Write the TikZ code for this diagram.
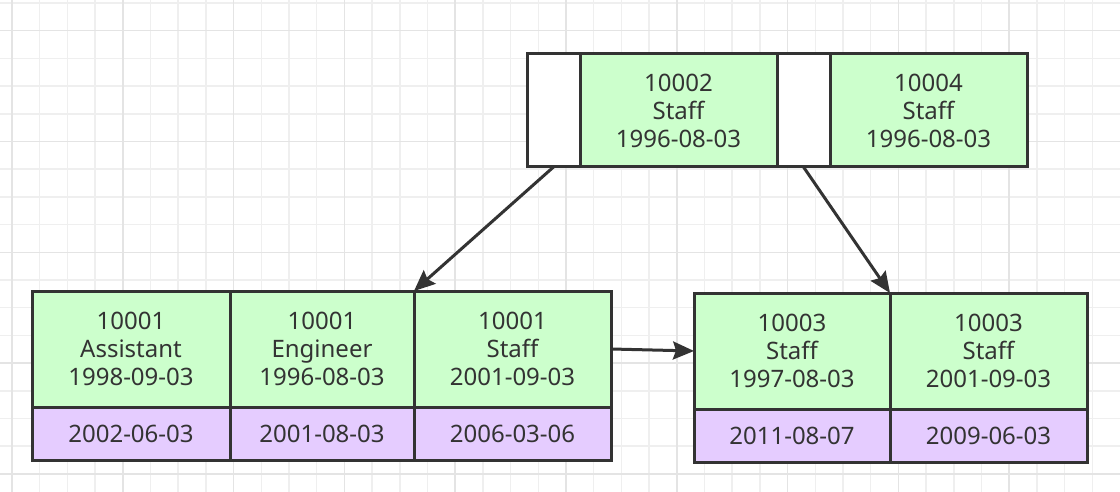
\documentclass[tikz,border=0pt]{standalone}
\usepackage{fontspec}
\setmainfont{Noto Sans}
\usetikzlibrary{arrows.meta,positioning}

\definecolor{keygreen}{HTML}{CCFFCC}
\definecolor{rowpurple}{HTML}{E5CCFF}
\definecolor{inkgray}{HTML}{333333}
\definecolor{gridminor}{HTML}{EFEFEF}
\definecolor{gridmajor}{HTML}{E4E4E4}

\tikzset{
  cell/.style={draw=inkgray, line width=3pt, inner sep=0pt, outer sep=0pt,
    text=inkgray, align=center, font=\fontsize{24}{28}\selectfont},
  ptrcell/.style={cell, fill=white, minimum width=53pt, minimum height=113pt},
  keycell/.style={cell, fill=keygreen, minimum height=116pt},
  rowcell/.style={cell, fill=rowpurple, minimum height=53pt},
  link/.style={draw=inkgray, line width=3pt, -{Stealth[length=21pt,width=18pt,inset=3pt]}},
}

\begin{document}
\begin{tikzpicture}[x=1pt, y=-1pt]

  \useasboundingbox (0,0) rectangle (1120,492);
  \fill[white] (0,0) rectangle (1120,492);

  % Raster
  \foreach \gx in {0,...,39}
    \draw[gridminor, line width=1.5pt] ({12+27.7*\gx},0) -- ({12+27.7*\gx},492);
  \foreach \gy in {0,...,17}
    \draw[gridminor, line width=1.5pt] (0,{3+27.7*\gy}) -- (1120,{3+27.7*\gy});
  \foreach \gx in {0,...,9}
    \draw[gridmajor, line width=1.5pt] ({12+110.8*\gx},0) -- ({12+110.8*\gx},492);
  \foreach \gy in {0,...,4}
    \draw[gridmajor, line width=1.5pt] (0,{30.7+110.8*\gy}) -- (1120,{30.7+110.8*\gy});

  % Wurzelknoten
  \node[ptrcell, anchor=north west] (rootptrA) at (527,54) {};
  \node[keycell, minimum width=197pt, minimum height=113pt, right=0pt of rootptrA]
    (rootkeyA) {10002\\Staff\\1996-08-03};
  \node[ptrcell, right=0pt of rootkeyA] (rootptrB) {};
  \node[keycell, minimum width=197pt, minimum height=113pt, right=0pt of rootptrB]
    (rootkeyB) {10004\\Staff\\1996-08-03};

  % Blatt links
  \node[keycell, minimum width=198pt, anchor=north west] (leafAa) at (32,291)
    {10001\\Assistant\\1998-09-03};
  \node[keycell, minimum width=184pt, right=0pt of leafAa] (leafAb)
    {10001\\Engineer\\1996-08-03};
  \node[keycell, minimum width=197pt, right=0pt of leafAb] (leafAc)
    {10001\\Staff\\2001-09-03};
  \node[rowcell, minimum width=198pt, below=0pt of leafAa] (rowAa) {2002-06-03};
  \node[rowcell, minimum width=184pt, below=0pt of leafAb] (rowAb) {2001-08-03};
  \node[rowcell, minimum width=197pt, below=0pt of leafAc] (rowAc) {2006-03-06};

  % Blatt rechts
  \node[keycell, minimum width=196pt, anchor=north west] (leafBa) at (694,293)
    {10003\\Staff\\1997-08-03};
  \node[keycell, minimum width=197pt, right=0pt of leafBa] (leafBb)
    {10003\\Staff\\2001-09-03};
  \node[rowcell, minimum width=196pt, below=0pt of leafBa] (rowBa) {2011-08-07};
  \node[rowcell, minimum width=197pt, below=0pt of leafBb] (rowBb) {2009-06-03};

  % Zeiger
  \draw[link] (rootptrA.south) -- (leafAc.north west);
  \draw[link] (rootptrB.south) -- (leafBb.north west);
  \draw[link] (leafAc.east) -- (leafBa.west);

\end{tikzpicture}
\end{document}
